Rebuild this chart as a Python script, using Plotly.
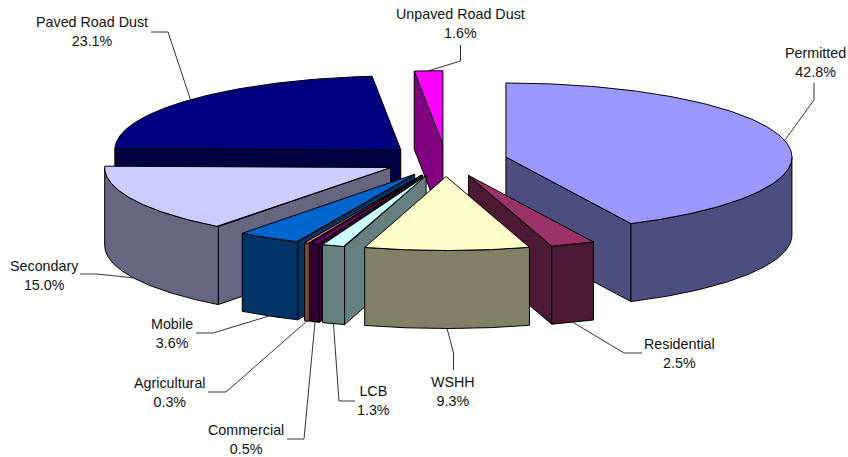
import math
import numpy as np
import plotly.graph_objects as go

# --- data ---
labels = ["Permitted", "Residential", "WSHH", "LCB", "Commercial", "Agricultural",
          "Mobile", "Secondary", "Paved Road Dust", "Unpaved Road Dust"]
values = [42.8, 2.5, 9.3, 1.3, 0.5, 0.3, 3.6, 15.0, 23.1, 1.6]

# --- styles ---
top_colors = ["#9999FF", "#993366", "#FFFFCC", "#CCFFFF", "#660066", "#FF8080",
              "#0066CC", "#CCCCFF", "#000080", "#FF00FF"]
side_colors = ["#4D4D80", "#4D1A33", "#808066", "#668080", "#330033", "#804040",
               "#003366", "#666680", "#000040", "#800080"]

# --- layout of the 3D projection ---
CX, CY = 446.0, 160.6
RX, RY = 286.0, 74.0
DEPTH = 78.0
EXPLODE = 0.215
FONT_SIZE = 14.3

label_pos = {  # centre of each two-line label
    "Permitted": (815, 62), "Residential": (679, 353), "WSHH": (453, 391),
    "LCB": (373, 400.5), "Commercial": (246, 439), "Agricultural": (170, 392),
    "Mobile": (172, 333), "Secondary": (44, 275), "Paved Road Dust": (92, 31.5),
    "Unpaved Road Dust": (460, 23),
}
leader_bends = {  # elbow points of the leader lines
    "Permitted": [(814, 100), (814, 83)], "Residential": [(624, 353), (642, 353)],
    "WSHH": [(453.5, 353), (453.5, 370)], "LCB": [(339, 401), (355, 401)],
    "Commercial": [(304, 439), (287, 439)], "Agricultural": [(226, 392), (208, 392)],
    "Mobile": [(213, 333), (196, 333)], "Secondary": [(97, 274), (80, 274)],
    "Paved Road Dust": [(168, 32), (151, 32)], "Unpaved Road Dust": [(460.5, 61), (460.5, 45)],
}

total = sum(values)
fig = go.Figure()


def outer(ax, ay, theta):
    return ax + RX * math.sin(theta), ay - RY * math.cos(theta)


def polygon(pts, fill):
    xs = [p[0] for p in pts] + [pts[0][0]]
    ys = [p[1] for p in pts] + [pts[0][1]]
    fig.add_trace(go.Scatter(x=xs, y=ys, mode="lines", fill="toself", fillcolor=fill,
                             line=dict(color="black", width=1), hoverinfo="skip",
                             showlegend=False))


slices = []
cum = 0.0
for i, v in enumerate(values):
    a0 = 2 * math.pi * cum / total
    a1 = 2 * math.pi * (cum + v) / total
    cum += v
    mid = (a0 + a1) / 2
    slices.append((i, a0, a1, mid))

# painter's order: back to front
for i, a0, a1, mid in sorted(slices, key=lambda s: -math.cos(s[3])):
    ax = CX + EXPLODE * RX * math.sin(mid)
    ay = CY - EXPLODE * RY * math.cos(mid)
    side, top = side_colors[i], top_colors[i]
    s0 = outer(ax, ay, a0)
    s1 = outer(ax, ay, a1)
    if math.sin(a0) < -1e-9:
        polygon([(ax, ay), s0, (s0[0], s0[1] + DEPTH), (ax, ay + DEPTH)], side)
    if math.sin(a1) > 1e-9:
        polygon([(ax, ay), s1, (s1[0], s1[1] + DEPTH), (ax, ay + DEPTH)], side)
    w0, w1 = max(a0, math.pi / 2), min(a1, 3 * math.pi / 2)
    if w1 > w0:
        arc = [outer(ax, ay, t) for t in np.linspace(w0, w1, 80)]
        polygon(arc + [(x, y + DEPTH) for x, y in reversed(arc)], side)
    arc = [outer(ax, ay, t) for t in np.linspace(a0, a1, 160)]
    polygon([(ax, ay)] + arc, top)

# leader lines and labels
for i, a0, a1, mid in slices:
    name = labels[i]
    ax = CX + EXPLODE * RX * math.sin(mid)
    ay = CY - EXPLODE * RY * math.cos(mid)
    sx, sy = outer(ax, ay, mid)
    if math.cos(mid) < 0:
        sy += DEPTH
    bends = leader_bends[name]
    fig.add_trace(go.Scatter(x=[sx] + [b[0] for b in bends], y=[sy] + [b[1] for b in bends],
                             mode="lines", line=dict(color="black", width=0.8),
                             hoverinfo="skip", showlegend=False))
    lx, ly = label_pos[name]
    fig.add_annotation(x=lx, y=ly, xref="x", yref="y", showarrow=False,
                       text=f"{name}<br>{values[i]:.1f}%", align="center",
                       xanchor="center", yanchor="middle",
                       font=dict(family="Liberation Sans, Arial, sans-serif",
                                 size=FONT_SIZE, color="#111111"))

fig.update_layout(
    width=848, height=457, margin=dict(l=0, r=0, t=0, b=0),
    paper_bgcolor="white", plot_bgcolor="white", showlegend=False,
    xaxis=dict(range=[0, 848], visible=False, fixedrange=True),
    yaxis=dict(range=[457, 0], visible=False, fixedrange=True),
)
fig.write_html("out.html", post_script="document.body.style.margin='0';document.documentElement.style.overflow='hidden';",
               config={"displayModeBar": False})
